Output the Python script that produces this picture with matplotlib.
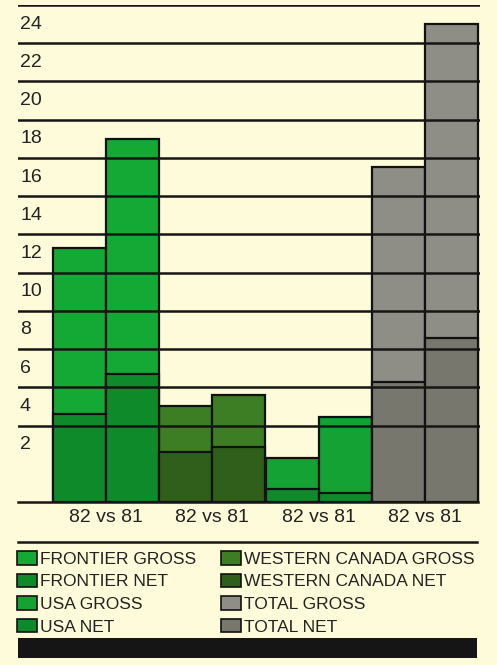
import matplotlib
matplotlib.use("Agg")
import matplotlib.pyplot as plt
from matplotlib.patches import Patch, Rectangle
from matplotlib.lines import Line2D
from matplotlib.transforms import blended_transform_factory

# ---- data -------------------------------------------------------------
groups = ["82 vs 81", "82 vs 81", "82 vs 81", "82 vs 81"]
series = ["FRONTIER", "WESTERN CANADA", "USA", "TOTAL"]
gross_82 = [13.3, 5.0, 2.3, 17.5]
gross_81 = [19.0, 5.6, 4.45, 25.0]
net_82 = [4.6, 2.6, 0.7, 6.3]
net_81 = [6.7, 2.9, 0.45, 8.6]
tick_values = [2, 4, 6, 8, 10, 12, 14, 16, 18, 20, 22, 24]
grid_values = [4, 6, 8, 10, 12, 14, 16, 18, 20, 22, 24, 26]

gross_colors = ["#14a835", "#3d7e24", "#13a233", "#8e8e86"]
net_colors = ["#0f8a2b", "#2f5f1b", "#0e8a2a", "#77776e"]
bg = "#fdfbd9"
ink = "#222222"

plt.rcParams["font.family"] = ["Liberation Sans", "DejaVu Sans"]

W, H = 497, 665
fig = plt.figure(figsize=(W / 100, H / 100), dpi=100, facecolor=bg)

ax_left, ax_right = 18, 480
ax_top, ax_bot = 5, 502
ax = fig.add_axes([ax_left / W, 1 - ax_bot / H, (ax_right - ax_left) / W,
                   (ax_bot - ax_top) / H])
ax.set_facecolor(bg)
for s in ax.spines.values():
    s.set_visible(False)

# bar x positions: two bars per group, side by side
px_per_unit = (478 - 53) / 8
xmin = -0.5 - (53 - ax_left) / px_per_unit
xmax = 7.5 + (ax_right - 478) / px_per_unit
ax.set_xlim(xmin, xmax)
ax.set_ylim(0, 26)

for i in range(len(series)):
    xs = [2 * i, 2 * i + 1]
    ax.bar(xs, [gross_82[i], gross_81[i]], width=1.0, color=gross_colors[i],
           edgecolor="#111111", linewidth=1.6, zorder=2)
    ax.bar(xs, [net_82[i], net_81[i]], width=1.0, color=net_colors[i],
           edgecolor="#111111", linewidth=1.6, zorder=2.5)

# horizontal rules drawn across the bars
for v in grid_values:
    ax.axhline(v, color="#151515", lw=1.8, zorder=3)
ax.axhline(0, xmin=0, xmax=(7.5 - xmin) / (xmax - xmin), color="#151515",
           lw=1.8, zorder=3, clip_on=False)

# value labels sit in the band just above each rule
step = tick_values[1] - tick_values[0]
trans = blended_transform_factory(ax.transAxes, ax.transData)
for v in tick_values:
    ax.text(2 / (ax_right - ax_left), v + step / 2, str(v), transform=trans,
            ha="left", va="center", fontsize=14, color=ink, zorder=1)

ax.set_yticks([])
ax.set_xticks([2 * i + 0.5 for i in range(len(groups))])
ax.set_xticklabels(groups, fontsize=14, color=ink)
ax.tick_params(axis="x", length=0, pad=5)

# separator rule and footer band
fig.add_artist(Line2D([ax_left / W, 477 / W], [1 - 542 / H, 1 - 542 / H],
                      color="#151515", lw=1.8))
fig.add_artist(Rectangle((ax_left / W, 1 - 658 / H), (477 - ax_left) / W,
                         20 / H, facecolor="#151515", edgecolor="none"))

# legend, two columns
def handles(idx):
    out = []
    for i in idx:
        out.append(Patch(facecolor=gross_colors[i], edgecolor="#111111",
                         lw=1.2, label=f"{series[i]} GROSS"))
        out.append(Patch(facecolor=net_colors[i], edgecolor="#111111",
                         lw=1.2, label=f"{series[i]} NET"))
    return out

leg_kw = dict(loc="upper left", frameon=False, fontsize=12.5,
              handlelength=1.15, handleheight=0.85, handletextpad=0.15,
              labelspacing=0.38, borderaxespad=0, borderpad=0,
              labelcolor=ink)
l1 = fig.legend(handles=handles([0, 2]),
                bbox_to_anchor=(17 / W, 1 - 551 / H), **leg_kw)
l2 = fig.legend(handles=handles([1, 3]),
                bbox_to_anchor=(221 / W, 1 - 551 / H), **leg_kw)

fig.savefig("out.png", dpi=100, facecolor=bg)
